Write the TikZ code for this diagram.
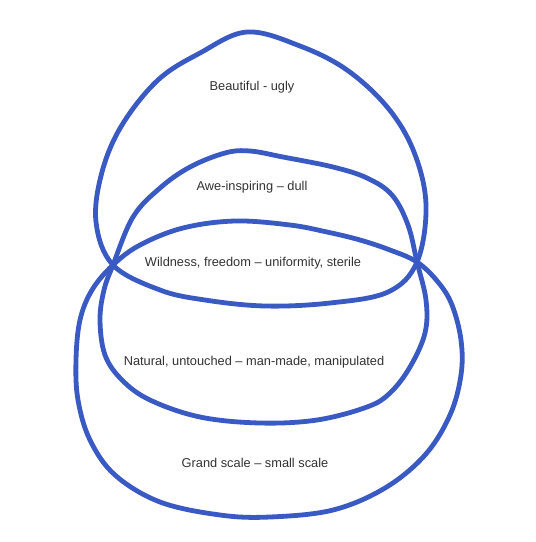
\documentclass[tikz,border=0pt]{standalone}
\usepackage{fontspec}
\setmainfont{Liberation Sans}
\definecolor{pen}{RGB}{58,90,195}
\definecolor{ink}{RGB}{50,50,50}

\begin{document}
\begin{tikzpicture}[x=1pt,y=-1pt,
  loop/.style={draw=pen,line width=4.8pt,line join=round},
  lbl/.style={text=ink,font=\fontsize{12.8}{15}\selectfont,inner sep=0pt}]
 \useasboundingbox (0,0) rectangle (536,542);
 % top loop
 \draw[loop] plot[smooth cycle,tension=0.6] coordinates {
  (247,32) (300,46) (347,70) (388,108) (414,152) (426,205) (417,262)
  (388,292) (330,303) (265,306) (205,300) (160,290) (113,265)
  (96,222) (102,172) (122,125) (158,80) (200,53)};
 % middle loop
 \draw[loop] plot[smooth cycle,tension=0.6] coordinates {
  (250,151) (283,157) (333,167) (367,178) (392,195) (408,225) (417,262)
  (426,300) (425,333) (410,367) (390,393) (367,407) (317,420) (260,423)
  (200,417) (150,400) (122,380) (105,355) (100,320) (104,290) (113,265)
  (133,217) (160,188) (190,167) (225,153)};
 % bottom loop
 \draw[loop] plot[smooth cycle,tension=0.6] coordinates {
  (235,221) (290,225) (327,232) (360,240) (390,250) (417,262)
  (438,282) (452,305) (461,340) (461,375) (450,415) (425,455)
  (385,488) (333,510) (270,517) (220,515) (160,502) (115,475)
  (90,440) (78,400) (76,360) (80,320) (92,290) (113,265)
  (140,245) (183,228)};
 \node[lbl] (beauty) at (252,87) {Beautiful - ugly};
 \node[lbl] (awe) at (252,187) {Awe-inspiring – dull};
 \node[lbl] (wild) at (253,263) {Wildness, freedom – uniformity, sterile};
 \node[lbl] (natural) at (254,362) {Natural, untouched – man-made, manipulated};
 \node[lbl] (scale) at (255,463) {Grand scale – small scale};
\end{tikzpicture}
\end{document}
